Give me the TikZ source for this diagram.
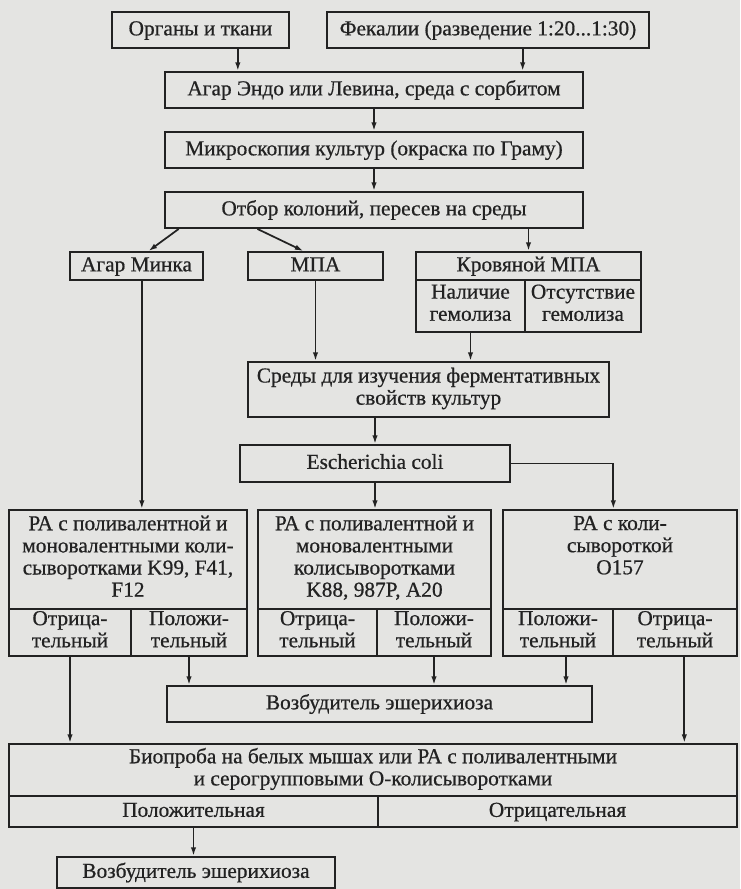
\documentclass[tikz,border=0pt]{standalone}
\usepackage{fontspec}
\setmainfont{Liberation Serif}[FakeBold=0.6]
\usepackage{xcolor}
\usetikzlibrary{arrows.meta}
\definecolor{paper}{HTML}{E4E4E2}
\definecolor{ink}{HTML}{222222}

\begin{document}
\begin{tikzpicture}[x=.75pt,y=-.75pt,
  box/.style={draw=ink,line width=1.4pt,inner sep=0pt,align=center,text=ink,
    font=\fontsize{16}{16.6}\selectfont,
    execute at begin node=\rule{0pt}{13pt},execute at end node=\strut},
  wh/.style 2 args={minimum width=#1*.75pt,minimum height=#2*.75pt},
  link/.style={draw=ink,line width=1.3pt,->},
  >={Latex[length=6.5pt,width=4pt]}]
\fill[paper] (0,0) rectangle (740,889);
\useasboundingbox (0,0) rectangle (740,889);

\node[box,wh={177}{36}] (organs) at (200.5,30) {Органы и ткани};
\node[box,wh={322}{36}] (feces) at (488,30) {Фекалии (разведение 1:20...1:30)};
\node[box,wh={418}{36}] (endo) at (374,90) {Агар Эндо или Левина, среда с сорбитом};
\node[box,wh={418}{36}] (micro) at (374,150) {Микроскопия культур (окраска по Граму)};
\node[box,wh={418}{36}] (select) at (374,210) {Отбор колоний, пересев на среды};

\node[box,wh={133}{28}] (minka) at (136.5,266) {Агар Минка};
\node[box,wh={135}{28}] (mpa) at (315.5,266) {МПА};
\node[box,wh={225}{28}] (krov) at (528.5,266) {Кровяной МПА};
\node[box,wh={109}{52}] (hem1) at (470.5,306) {Наличие\\гемолиза};
\node[box,wh={116}{52}] (hem2) at (583,306) {Отсутствие\\гемолиза};

\node[box,wh={361}{55}] (sredy) at (428.5,389.5) {Среды для изучения ферментативных\\свойств культур};
\node[box,wh={270}{37}] (esch) at (375,463.5) {Escherichia coli};

\node[box,wh={238}{99}] (ra1) at (128,559.5) {РА с поливалентной и\\моновалентными коли-\\сыворотками K99, F41,\\F12};
\node[box,wh={233}{99}] (ra2) at (374.5,559.5) {РА с поливалентной и\\моновалентными\\колисыворотками\\K88, 987P, A20};
\node[box,wh={234}{99}] (ra3) at (620,559.5) {РА с коли-\\сывороткой\\O157\\\mbox{}};
\node[box,wh={122}{47}] (ra1n) at (70,632.5) {Отрица-\\тельный};
\node[box,wh={116}{47}] (ra1p) at (189,632.5) {Положи-\\тельный};
\node[box,wh={119}{47}] (ra2n) at (317.5,632.5) {Отрица-\\тельный};
\node[box,wh={114}{47}] (ra2p) at (434,632.5) {Положи-\\тельный};
\node[box,wh={110}{47}] (ra3p) at (558,632.5) {Положи-\\тельный};
\node[box,wh={124}{47}] (ra3n) at (675,632.5) {Отрица-\\тельный};

\node[box,wh={425}{36}] (vozb) at (379.5,704) {Возбудитель эшерихиоза};
\node[box,wh={728}{52}] (bio) at (373,770) {Биопроба на белых мышах или РА с поливалентными\\и серогрупповыми О-колисыворотками};
\node[box,wh={369}{31}] (biop) at (193.5,811.5) {Положительная};
\node[box,wh={359}{31}] (bion) at (557.5,811.5) {Отрицательная};
\node[box,wh={278}{31}] (final) at (196,872.5) {Возбудитель эшерихиоза};

\draw[link] ([xshift=28pt]organs.south) -- ([xshift=28pt]organs.south |- endo.north);
\draw[link] ([xshift=26pt]feces.south) -- ([xshift=26pt]feces.south |- endo.north);
\draw[link] (endo) -- (micro);
\draw[link] (micro) -- (select);
\draw[link] ([xshift=11pt]select.south west) -- ([xshift=9pt]minka.north);
\draw[link] ([xshift=70pt]select.south west) -- ([xshift=-9pt]mpa.north);
\draw[link] (krov.north |- select.south) -- (krov);
\draw[link] ([xshift=4pt]minka.south) -- ([xshift=4pt]minka.south |- ra1.north);
\draw[link] (mpa) -- (mpa |- sredy.north);
\draw[link] (hem1) -- (hem1 |- sredy.north);
\draw[link] (esch |- sredy.south) -- (esch);
\draw[link] (esch) -- (esch |- ra2.north);
\draw[link] (esch.east) -| ([xshift=-5pt]ra3.north);
\draw[link] (ra1p) -- (ra1p |- vozb.north);
\draw[link] (ra2p) -- (ra2p |- vozb.north);
\draw[link] ([xshift=6pt]ra3p.south) -- ([xshift=6pt]ra3p.south |- vozb.north);
\draw[link] (ra1n) -- (ra1n |- bio.north);
\draw[link] ([xshift=7pt]ra3n.south) -- ([xshift=7pt]ra3n.south |- bio.north);
\draw[link] (biop) -- (biop |- final.north);
\end{tikzpicture}
\end{document}
